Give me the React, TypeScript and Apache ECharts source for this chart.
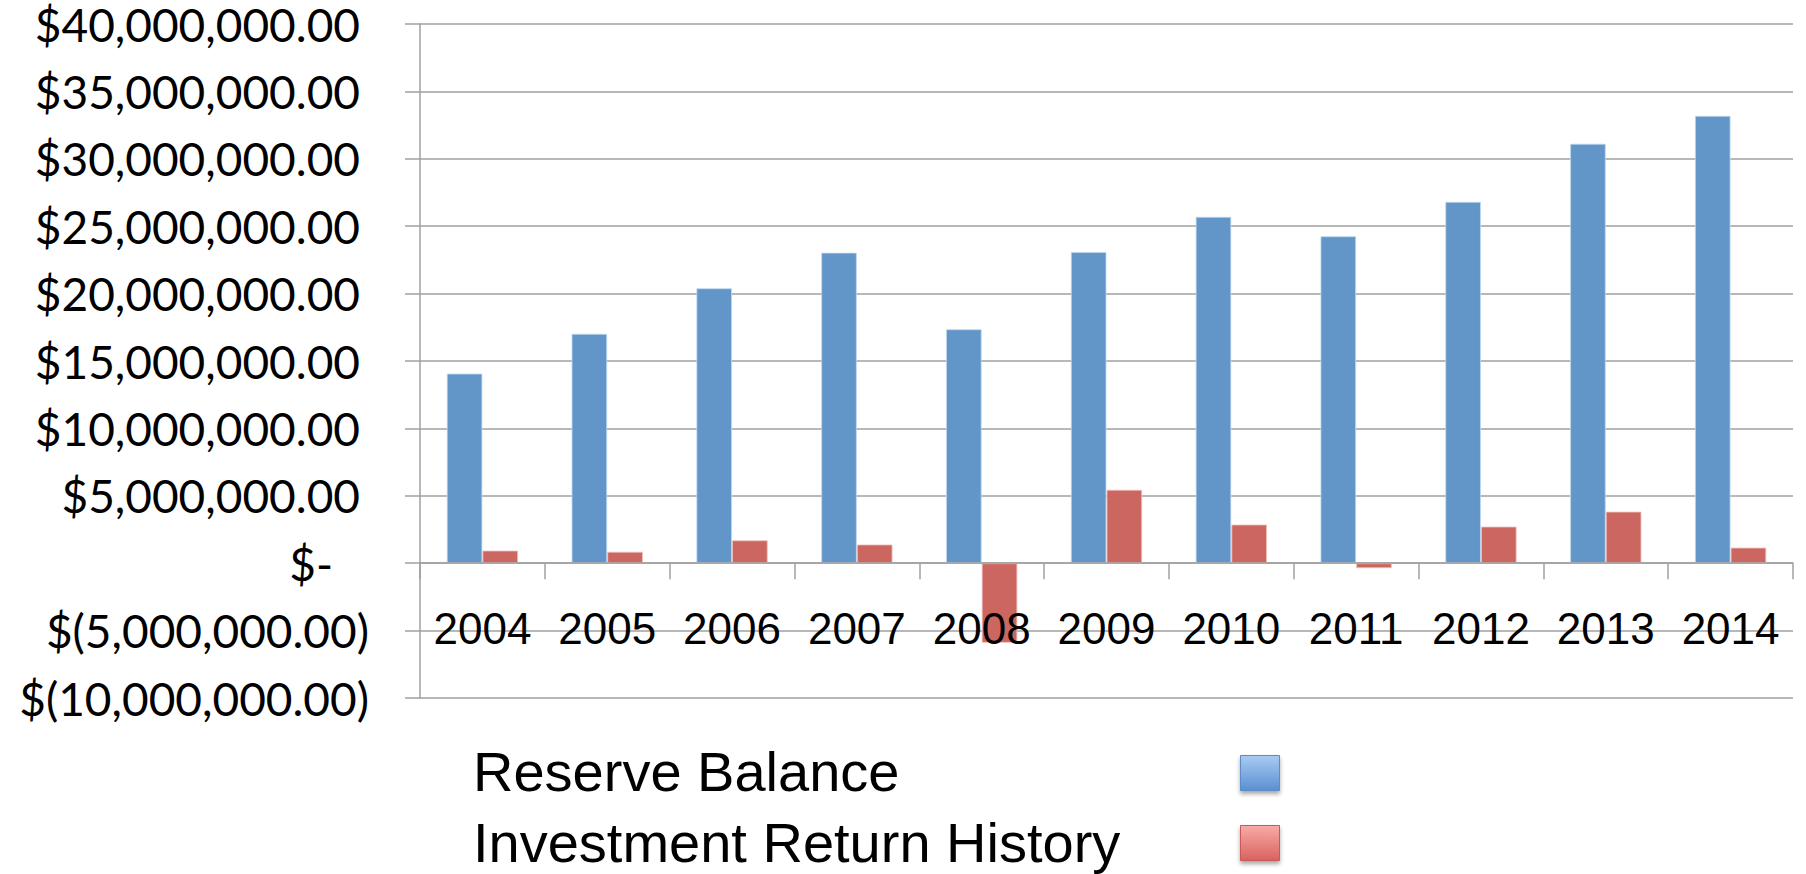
import React, { useEffect, useRef } from "react";
import * as echarts from "echarts";

const years = ["2004", "2005", "2006", "2007", "2008", "2009", "2010", "2011", "2012", "2013", "2014"];
const reserveBalance = [14070000, 17020000, 20400000, 23040000, 17360000, 23090000, 25700000, 24260000, 26810000, 31120000, 33190000];
const investmentReturn = [940000, 850000, 1700000, 1390000, -5910000, 5450000, 2870000, -370000, 2720000, 3830000, 1160000];
const seriesNames = ["Reserve Balance", "Investment Return History"];
const yMin = -10000000;
const yMax = 40000000;
const yStep = 5000000;

function fmtMoney(v: number): string {
  if (v === 0) return "{z|$-}";
  const s = Math.abs(v).toLocaleString("en-US", { minimumFractionDigits: 2, maximumFractionDigits: 2 });
  return v < 0 ? "{n|$(" + s + ")}" : "{p|$" + s + "}";
}

export default function App() {
  const ref = useRef<HTMLDivElement>(null);
  useEffect(() => {
    if (!ref.current) return;
    const chart = echarts.init(ref.current, undefined, { renderer: "svg" });
    const grey = "#a0a0a0";
    const blue = "#6296C9";
    const red = "#CC6660";
    const yl = { fontFamily: "Lato", fontSize: 46, lineHeight: 40, color: "#000" };
    chart.setOption({
      animation: false,
      grid: { left: 420, right: 13, top: 24, bottom: 176, containLabel: false },
      xAxis: {
        type: "category",
        data: years,
        axisLine: { onZero: true, lineStyle: { color: grey, width: 1.5 } },
        axisTick: { show: true, length: 16, lineStyle: { color: grey, width: 1.5 } },
        axisLabel: {
          interval: 0,
          margin: -92,
          fontFamily: "Liberation Sans",
          fontSize: 44,
          lineHeight: 44,
          color: "#000",
        },
        splitLine: { show: false },
        z: 10,
      },
      yAxis: {
        type: "value",
        min: yMin,
        max: yMax,
        interval: yStep,
        axisLine: { show: true, lineStyle: { color: grey, width: 1.5 } },
        axisTick: { show: true, length: 15, lineStyle: { color: grey, width: 1.5 } },
        splitLine: { show: true, lineStyle: { color: grey, width: 1.5 } },
        axisLabel: {
          margin: 51,
          ...yl,
          formatter: fmtMoney,
          rich: {
            p: { ...yl, padding: [0, 9, 0, 0] },
            n: { ...yl, padding: [0, 0, 0, 0] },
            z: { ...yl, padding: [0, 36, 0, 0] },
          },
        },
      },
      legend: [
        {
          orient: "vertical",
          left: 467,
          top: 742,
          padding: 0,
          itemWidth: 0,
          itemHeight: 56,
          itemGap: 13,
          icon: "rect",
          itemStyle: { opacity: 0 },
          selectedMode: false,
          data: seriesNames,
          textStyle: { fontFamily: "Liberation Sans", fontSize: 56, lineHeight: 56, color: "#000" },
        },
        {
          orient: "vertical",
          left: 1240,
          top: 755,
          padding: 0,
          itemWidth: 39,
          itemHeight: 35,
          itemGap: 34,
          icon: "rect",
          selectedMode: false,
          formatter: () => "",
          textStyle: { fontSize: 10 },
          data: [
            {
              name: seriesNames[0],
              itemStyle: {
                color: new echarts.graphic.LinearGradient(0, 0, 0, 1, [
                  { offset: 0, color: "#A9CBF2" },
                  { offset: 1, color: "#5A90D2" },
                ]),
                borderColor: "#5D8CC4",
                borderWidth: 1,
                shadowColor: "rgba(0,0,0,0.35)",
                shadowBlur: 4,
                shadowOffsetY: 3,
              },
            },
            {
              name: seriesNames[1],
              itemStyle: {
                color: new echarts.graphic.LinearGradient(0, 0, 0, 1, [
                  { offset: 0, color: "#F8ABA8" },
                  { offset: 1, color: "#D9625E" },
                ]),
                borderColor: "#C85A56",
                borderWidth: 1,
                shadowColor: "rgba(0,0,0,0.35)",
                shadowBlur: 4,
                shadowOffsetY: 3,
              },
            },
          ],
        },
      ],
      series: [
        {
          name: seriesNames[0],
          type: "bar",
          data: reserveBalance,
          barWidth: "28.6%",
          barGap: "0%",
          itemStyle: { color: blue, borderColor: "rgba(190,215,240,0.8)", borderWidth: 1 },
        },
        {
          name: seriesNames[1],
          type: "bar",
          data: investmentReturn,
          barWidth: "28.6%",
          barGap: "0%",
          itemStyle: { color: red, borderColor: "rgba(240,190,185,0.8)", borderWidth: 1 },
        },
      ],
    });
    return () => chart.dispose();
  }, []);
  return (
    <div
      ref={ref}
      style={{ position: "fixed", left: 0, top: 0, width: 1806, height: 874, background: "#fff" }}
    />
  );
}
